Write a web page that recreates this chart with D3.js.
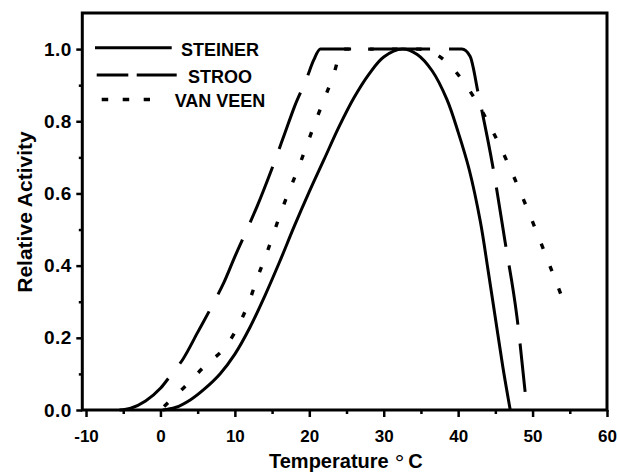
<!DOCTYPE html>
<html><head><meta charset="utf-8">
<script src="https://cdn.jsdelivr.net/npm/d3@7"></script>
<style>
body{margin:0;background:#fff}
svg text{font-family:"Liberation Sans",Arial,Helvetica,sans-serif;font-weight:bold;fill:#000}
</style>
</head><body>
<svg id="chart" width="618" height="475"></svg>
<script>
// ---- data ----
const seriesNames = ["STEINER", "STROO", "VAN VEEN"];

const steinerT = [0.3, 2, 4, 6, 8, 10, 12, 14, 16, 18, 20, 22, 24, 26, 28, 30, 32.5, 34.5, 36.5, 38.5, 40, 41.5, 43, 44, 45, 46, 47];
const steinerV = [0, 0.007, 0.028, 0.06, 0.1, 0.155, 0.228, 0.315, 0.41, 0.51, 0.605, 0.695, 0.785, 0.865, 0.93, 0.978, 1.0, 0.985, 0.94, 0.86, 0.77, 0.665, 0.52, 0.39, 0.255, 0.12, 0];

const strooT = [-5.5, -4, -2, 0, 1.3, 3, 5, 7.3, 8.5, 10, 11.8, 13, 15, 16.7, 18, 19.65, 20.6, 21.5, 40.5, 41.6, 42.7, 44.7, 46.3, 47.9, 49];
const strooV = [0, 0.005, 0.025, 0.06, 0.094, 0.14, 0.215, 0.303, 0.352, 0.425, 0.508, 0.565, 0.67, 0.766, 0.84, 0.919, 0.97, 1.0, 1.0, 0.98, 0.877, 0.67, 0.467, 0.258, 0.05];

const vanVeenT = [0, 1.5, 3.3, 6, 9, 10.7, 12, 13, 14.2, 16.3, 18.7, 20.9, 23.2, 24.5, 34.7, 54];
const vanVeenV = [0, 0.03, 0.065, 0.123, 0.182, 0.243, 0.305, 0.365, 0.43, 0.554, 0.68, 0.803, 0.925, 1.0, 1.0, 0.31];

const xMajorTicks = [-10, 0, 10, 20, 30, 40, 50, 60];
const xMinorTicks = [-5, 5, 15, 25, 35, 45, 55];
const yMajorTicks = [0, 0.2, 0.4, 0.6, 0.8, 1.0];
const yMinorTicks = [0.1, 0.3, 0.5, 0.7, 0.9];

const xTitle = "Temperature";
const xUnit = "C";
const yTitle = "Relative Activity";

// ---- drawing ----
const svg = d3.select("#chart");
const x = d3.scaleLinear().domain([-10.5, 60]).range([82.3, 607]);
const y = d3.scaleLinear().domain([0, 1.1]).range([410, 13]);

function zip(ts, vs) { return ts.map((t, i) => ({t: t, v: vs[i]})); }
const smoothLine = d3.line().x(d => x(d.t)).y(d => y(d.v)).curve(d3.curveCatmullRom.alpha(0.5));
const monoLine = d3.line().x(d => x(d.t)).y(d => y(d.v)).curve(d3.curveMonotoneX);

// axes
function styleAxis(g, fs) {
  g.select(".domain").remove();
  g.attr("font-family", null).attr("font-size", null);
  g.selectAll(".tick line").attr("stroke", "#000").attr("stroke-width", 2.5);
  g.selectAll(".tick text").style("font-size", fs + "px");
}
svg.append("g").attr("transform", "translate(0,410)")
  .call(d3.axisBottom(x).tickValues(xMajorTicks).tickSize(7).tickPadding(13).tickFormat(d => String(d)))
  .call(g => styleAxis(g, 17));
svg.append("g").attr("transform", "translate(0,410)")
  .call(d3.axisBottom(x).tickValues(xMinorTicks).tickSize(4).tickFormat(""))
  .call(g => styleAxis(g, 17));
svg.append("g").attr("transform", "translate(82.3,0)")
  .call(d3.axisLeft(y).tickValues(yMajorTicks).tickSize(6).tickPadding(4.5).tickFormat(d3.format(".1f")))
  .call(g => { styleAxis(g, 19); g.selectAll(".tick text").attr("letter-spacing", "0.5px"); });
svg.append("g").attr("transform", "translate(82.3,0)")
  .call(d3.axisLeft(y).tickValues(yMinorTicks).tickSize(3.5).tickFormat(""))
  .call(g => styleAxis(g, 19));

// frame
svg.append("rect")
  .attr("x", x(-10.5)).attr("y", y(1.1))
  .attr("width", x(60) - x(-10.5)).attr("height", y(0) - y(1.1))
  .attr("fill", "none").attr("stroke", "#000").attr("stroke-width", 3);

// series
const styles = [
  {dash: null, width: 3, gen: smoothLine},
  {dash: "60,19", width: 3, gen: monoLine},
  {dash: "5.5,18.5", width: 3.4, offset: 19, gen: monoLine}
];
const data = [zip(steinerT, steinerV), zip(strooT, strooV), zip(vanVeenT, vanVeenV)];
data.forEach((d, i) => {
  const p = svg.append("path").datum(d).attr("d", styles[i].gen)
    .attr("fill", "none").attr("stroke", "#000")
    .attr("stroke-width", styles[i].width).attr("stroke-linejoin", "round");
  if (styles[i].dash) p.attr("stroke-dasharray", styles[i].dash);
  if (styles[i].offset) p.attr("stroke-dashoffset", styles[i].offset);
});

// legend
const legendRows = [
  {y: 47.7, x1: 95, x2: 171.7, dash: null, ty: 56},
  {y: 75, x1: 96.7, x2: 176.7, dash: "31.6,8.4,40", ty: 83},
  {y: 99.5, x1: 101.7, x2: 150, dash: "6.5,14.5", ty: 107}
];
legendRows.forEach((r, i) => {
  const l = svg.append("line").attr("x1", r.x1).attr("x2", r.x2).attr("y1", r.y).attr("y2", r.y)
    .attr("stroke", "#000").attr("stroke-width", i === 2 ? 3.4 : 3);
  if (r.dash) l.attr("stroke-dasharray", r.dash);
  svg.append("text").attr("x", 220).attr("y", r.ty).attr("text-anchor", "middle")
    .style("font-size", "18px").text(seriesNames[i]);
});

// axis titles
const xt = svg.append("text").attr("x", 269).attr("y", 468).style("font-size", "20px");
xt.append("tspan").text(xTitle);
xt.append("tspan").attr("dx", 6).attr("dy", 3).style("font-size", "24px").style("font-weight", "normal").text("\u00B0");
xt.append("tspan").attr("dx", 4).attr("dy", -3).text(xUnit);

svg.append("text").attr("transform", "translate(31.5,212) rotate(-90)")
  .attr("text-anchor", "middle").style("font-size", "21px").text(yTitle);
</script>
</body></html>
